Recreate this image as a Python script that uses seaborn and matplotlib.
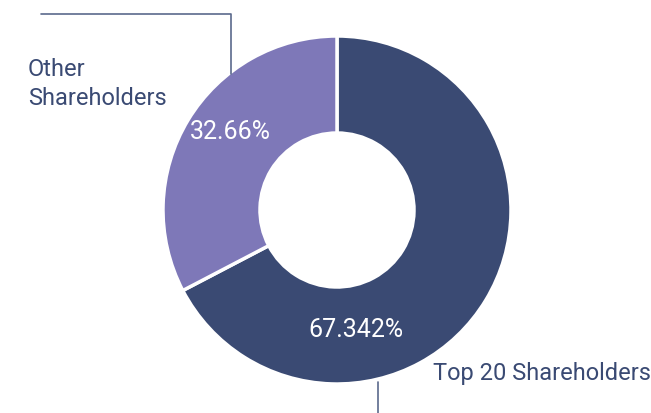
import matplotlib
matplotlib.use("Agg")
import matplotlib.pyplot as plt
import seaborn as sns

# shareholding split
groups = ["Top 20 Shareholders", "Other Shareholders"]
shares = [67.342, 32.66]
share_text = ["67.342%", "32.66%"]
colors = ["#3a4a73", "#7e78b8"]

sns.set_theme(style="white")
plt.rcParams['font.family'] = ['Roboto', 'DejaVu Sans']

fig = plt.figure(figsize=(6.51, 4.14), dpi=100)
ax = fig.add_axes([0, 0, 1, 1])

# donut in pixel units; y is flipped so angles run the other way
ax.pie(shares, colors=colors, startangle=-90, counterclock=True,
       center=(337, 211), radius=174, frame=True,
       wedgeprops=dict(width=97, edgecolor='white', linewidth=2.5))
ax.set_xlim(0, 651)
ax.set_ylim(414, 0)
ax.axis('off')

# percentage labels
ax.text(356, 330, share_text[0], color='white', fontsize=18, ha='center', va='center')
ax.text(230, 132, share_text[1], color='white', fontsize=18, ha='center', va='center')

# leader lines
line_col = '#5b6a8c'
ax.plot([41, 231, 231], [15, 15, 75], color=line_col, lw=1.2)
ax.plot([378, 378], [383, 414], color=line_col, lw=1.2)

# category labels
txt_col = '#3a4a73'
ax.text(28, 84, "Other\nShareholders", color=txt_col, fontsize=17, ha='left', va='center',
        linespacing=1.35)
ax.text(433, 374, groups[0], color=txt_col, fontsize=17, ha='left', va='center')

fig.savefig("out.png", dpi=100)
